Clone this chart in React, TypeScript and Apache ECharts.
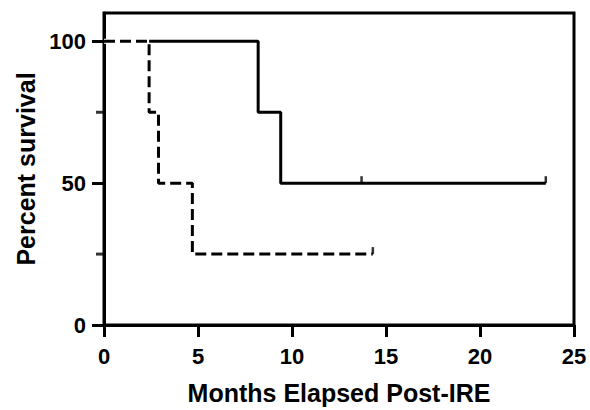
import React, { useEffect, useRef } from "react";
import * as echarts from "echarts";

// Kaplan-Meier curves (months, percent survival)
const solidTimes = [0, 8.2, 9.4, 23.5];
const solidSurvival = [100, 75, 50, 50];
const dashedTimes = [0, 2.4, 2.9, 4.7, 14.3];
const dashedSurvival = [100, 75, 50, 25, 25];
// censored observations
const solidCensorTimes = [13.7, 23.5];
const solidCensorSurvival = [50, 50];
const dashedCensorTimes = [14.3];
const dashedCensorSurvival = [25];
// axis ticks
const yMajorTicks = [0, 50, 100];
const yMinorTicks = [25, 75];

const FONT = "Liberation Sans, Arial, sans-serif";

export default function App() {
  const ref = useRef<HTMLDivElement>(null);
  useEffect(() => {
    if (!ref.current) return;
    const chart = echarts.init(ref.current, null, { renderer: "svg" });
    const zip = (xs: number[], ys: number[]) => xs.map((x, i) => [x, ys[i]]);
    const labelStyle = { fontSize: 22, fontWeight: "bold" as const, color: "#000", fontFamily: FONT };
    chart.setOption({
      animation: false,
      backgroundColor: "#fff",
      grid: { left: 104, right: 16, top: 13, bottom: 83, show: true, borderColor: "#000", borderWidth: 3, backgroundColor: "transparent" },
      xAxis: {
        type: "value",
        min: 0,
        max: 25,
        interval: 5,
        axisLine: { show: true, lineStyle: { color: "#000", width: 3 } },
        axisTick: { show: true, length: 12, lineStyle: { color: "#000", width: 3 } },
        axisLabel: { ...labelStyle, margin: 20 },
        splitLine: { show: false },
        name: "Months Elapsed Post-IRE",
        nameLocation: "middle",
        nameGap: 55,
        nameTextStyle: { fontSize: 25, fontWeight: "bold", color: "#000", fontFamily: FONT },
      },
      yAxis: {
        type: "value",
        min: 0,
        max: 110,
        position: "left",
        axisLine: { show: true, lineStyle: { color: "#000", width: 3 } },
        axisTick: { show: true, length: 12, customValues: yMajorTicks, lineStyle: { color: "#000", width: 3 } },
        axisLabel: { ...labelStyle, margin: 18, customValues: yMajorTicks },
        splitLine: { show: false },
        name: "Percent survival",
        nameLocation: "middle",
        nameGap: 66,
        nameTextStyle: { fontSize: 25, fontWeight: "bold", color: "#000", fontFamily: FONT },
      },
      series: [
        {
          type: "line",
          step: "end",
          data: zip(solidTimes, solidSurvival),
          symbol: "none",
          lineStyle: { color: "#000", width: 3 },
          z: 2,
        },
        {
          type: "line",
          data: zip(dashedTimes.slice(0, 2), [dashedSurvival[0], dashedSurvival[0]]),
          symbol: "none",
          lineStyle: { color: "#fff", width: 5 },
          z: 3,
        },
        {
          type: "line",
          step: "end",
          data: zip(dashedTimes, dashedSurvival),
          symbol: "none",
          lineStyle: { color: "#000", width: 3, type: [11, 5] },
          z: 4,
        },
        {
          type: "scatter",
          data: zip(solidCensorTimes, solidCensorSurvival),
          symbol: "rect",
          symbolSize: [2.5, 7],
          symbolOffset: [0, "-50%"],
          itemStyle: { color: "#000" },
          z: 5,
        },
        {
          type: "scatter",
          data: zip(dashedCensorTimes, dashedCensorSurvival),
          symbol: "rect",
          symbolSize: [2.5, 7],
          symbolOffset: [0, "-50%"],
          itemStyle: { color: "#000" },
          z: 5,
        },
        {
          // minor y-axis ticks at 25 and 75, drawn outward from the axis
          type: "scatter",
          data: yMinorTicks.map((v) => [0, v]),
          symbol: "rect",
          symbolSize: [8, 3],
          symbolOffset: ["-50%", 0],
          itemStyle: { color: "#000" },
          clip: false,
          silent: true,
          z: 6,
        },
      ],
    });
    return () => chart.dispose();
  }, []);
  return <div ref={ref} style={{ width: 590, height: 410, position: "fixed", left: 0, top: 0 }} />;
}
